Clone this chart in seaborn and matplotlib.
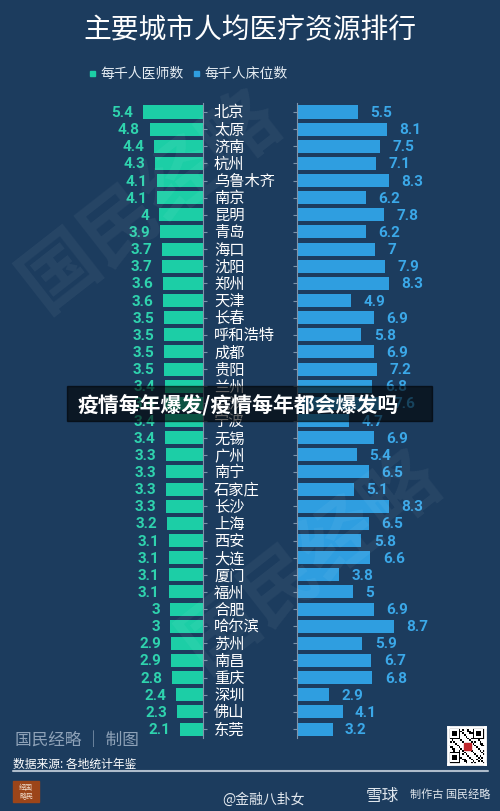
import numpy as np
import pandas as pd
import matplotlib
matplotlib.use("Agg")
import matplotlib.pyplot as plt
from matplotlib.transforms import blended_transform_factory
from matplotlib.patches import Rectangle
import seaborn as sns

# ---------------- data ----------------
cities = ["北京", "太原", "济南", "杭州", "乌鲁木齐", "南京", "昆明", "青岛", "海口",
          "沈阳", "郑州", "天津", "长春", "呼和浩特", "成都", "贵阳", "兰州", "武汉",
          "宁波", "无锡", "广州", "南宁", "石家庄", "长沙", "上海", "西安", "大连",
          "厦门", "福州", "合肥", "哈尔滨", "苏州", "南昌", "重庆", "深圳", "佛山", "东莞"]
doctors = [5.4, 4.8, 4.4, 4.3, 4.1, 4.1, 4, 3.9, 3.7,
           3.7, 3.6, 3.6, 3.5, 3.5, 3.5, 3.5, 3.4, 3.4,
           3.4, 3.4, 3.3, 3.3, 3.3, 3.3, 3.2, 3.1, 3.1,
           3.1, 3.1, 3, 3, 2.9, 2.9, 2.8, 2.4, 2.3, 2.1]
beds = [5.5, 8.1, 7.5, 7.1, 8.3, 6.2, 7.8, 6.2, 7,
        7.9, 8.3, 4.9, 6.9, 5.8, 6.9, 7.2, 6.8, 7.6,
        4.7, 6.9, 5.4, 6.5, 5.1, 8.3, 6.5, 5.8, 6.6,
        3.8, 5, 6.9, 8.7, 5.9, 6.7, 6.8, 2.9, 4.1, 3.2]
title = "主要城市人均医疗资源排行"
legend_labels = ["每千人医师数", "每千人床位数"]
banner_text = "疫情每年爆发/疫情每年都会爆发吗"

df = pd.DataFrame({"city": cities, "doctors": doctors, "beds": beds})

# ---------------- style ----------------
BG = "#1c3c5e"
TEAL = "#1ccea6"
TEAL_TXT = "#2fd3ae"
BLUE = "#2f9ee0"
BLUE_TXT = "#3ba8e8"
SPINE = "#7f94aa"

sns.set_style("white")
plt.rcParams["font.family"] = ["Noto Sans CJK SC", "DejaVu Sans"]

W, H = 500, 812
fig = plt.figure(figsize=(W / 100, H / 100), dpi=100, facecolor=BG)


def rect(x0, y0, w, h):
    return [x0 / W, 1 - (y0 + h) / H, w / W, h / H]


n = len(cities)
row = 17.14
top = 113 - row / 2
ax_h = n * row
scale = 11.1  # px per unit

# ---------------- faint watermarks ----------------
fig.text(150 / W, 1 - 200 / H, "国民经略", ha="center", va="center", rotation=38,
         fontsize=55, color="white", alpha=0.05, fontweight="bold")
fig.text(310 / W, 1 - 560 / H, "国民经略", ha="center", va="center", rotation=38,
         fontsize=55, color="white", alpha=0.05, fontweight="bold")

axL = fig.add_axes(rect(15, top, 203 - 15, ax_h))
axR = fig.add_axes(rect(297, top, 490 - 297, ax_h))

sns.barplot(data=df, x="doctors", y="city", ax=axL, color=TEAL, width=0.76,
            orient="h", saturation=1, edgecolor="none")
sns.barplot(data=df, x="beds", y="city", ax=axR, color=BLUE, width=0.76,
            orient="h", saturation=1, edgecolor="none")

axL.set_xlim((203 - 15) / scale, 0)
axR.set_xlim(0, (490 - 297) / scale)
for ax in (axL, axR):
    ax.set_ylim(n - 0.5, -0.5)
    ax.set_facecolor("none")
    ax.set_xlabel("")
    ax.set_ylabel("")
    ax.set_xticks([])
    for s in ax.spines.values():
        s.set_visible(False)
    ax.tick_params(axis="y", length=3, width=0.8, color=SPINE, labelleft=False,
                   labelright=False)

axL.spines["right"].set_visible(True)
axL.spines["right"].set_color(SPINE)
axL.spines["right"].set_linewidth(0.8)
axL.yaxis.set_ticks_position("right")
axL.tick_params(axis="y", labelright=False, labelleft=False)
axR.spines["left"].set_visible(True)
axR.spines["left"].set_color(SPINE)
axR.spines["left"].set_linewidth(0.8)
axR.yaxis.set_ticks_position("left")
axR.tick_params(axis="y", labelright=False, labelleft=False)

num_font = dict(family=["Roboto", "DejaVu Sans"], fontweight="bold", fontsize=11)
for i, (d, b) in enumerate(zip(doctors, beds)):
    axL.annotate(f"{d:g}", xy=(d, i), xytext=(-7, 0), textcoords="offset points",
                 ha="right", va="center", color=TEAL_TXT, **num_font)
    axR.annotate(f"{b:g}", xy=(b, i), xytext=(9, 0), textcoords="offset points",
                 ha="left", va="center", color=BLUE_TXT, **num_font)

tr = blended_transform_factory(fig.transFigure, axR.transData)
for i, c in enumerate(cities):
    axR.text(214 / W, i, c, transform=tr, ha="left", va="center", color="white",
             fontsize=11, clip_on=False)

# ---------------- title & legend ----------------
fig.text(0.5, 1 - 30 / H, title, ha="center", va="center", color="white", fontsize=20)
fig.patches.append(Rectangle((90 / W, 1 - 77 / H), 5 / W, 5 / H, transform=fig.transFigure,
                             color=TEAL, figure=fig))
fig.text(100 / W, 1 - 74 / H, legend_labels[0], ha="left", va="center", color="#e6edf3",
         fontsize=10)
fig.patches.append(Rectangle((194 / W, 1 - 77 / H), 5 / W, 5 / H, transform=fig.transFigure,
                             color=BLUE, figure=fig))
fig.text(204 / W, 1 - 74 / H, legend_labels[1], ha="left", va="center", color="#e6edf3",
         fontsize=10)

# ---------------- banner ----------------
fig.patches.append(Rectangle((67 / W, 1 - 422 / H), (432 - 67) / W, 35 / H,
                             transform=fig.transFigure, color="black", alpha=0.6,
                             figure=fig, zorder=5))
fig.text(78 / W, 1 - 405 / H, banner_text, ha="left", va="center", color="white",
         fontsize=15, fontweight="bold", zorder=6)

# ---------------- footer ----------------
fig.text(15 / W, 1 - 741 / H, "国民经略 │ 制图", ha="left", va="center", color="#8ea2b8",
         fontsize=12)
fig.text(13 / W, 1 - 764 / H, "数据来源: 各地统计年鉴", ha="left", va="center",
         color="white", fontsize=8.5)
fig.lines.append(plt.Line2D([13 / W, 488 / W], [1 - 772 / H, 1 - 772 / H],
                            transform=fig.transFigure, color="#aebccb", lw=1.5))
fig.patches.append(Rectangle((13 / W, 1 - 803 / H), 26 / W, 21 / H,
                             transform=fig.transFigure, color="#9c4519", figure=fig))
fig.text(26 / W, 1 - 792.5 / H, "经国\n略民", ha="center", va="center", color="#f0dccb",
         fontsize=5, linespacing=1.1)
fig.text(222 / W, 1 - 800 / H, "@金融八卦女", ha="left", va="center", color="#e3e9ef",
         fontsize=10)
fig.text(366 / W, 1 - 796 / H, "雪球", ha="left", va="center", color="#dfe6ed",
         fontsize=12)
fig.text(410 / W, 1 - 794 / H, "制作古 国民经略", ha="left", va="center", color="#dfe6ed",
         fontsize=8)

# QR code placeholder (decorative)
qr_ax = fig.add_axes(rect(448, 728, 37, 37))
ii, jj = np.indices((21, 21))
pattern = (((ii * 7 + jj * 3) % 5 == 0) | ((ii * jj) % 7 == 1)).astype(float)
for (r0, c0) in [(0, 0), (0, 14), (14, 0)]:
    pattern[r0:r0 + 7, c0:c0 + 7] = 1
    pattern[r0 + 1:r0 + 6, c0 + 1:c0 + 6] = 0
    pattern[r0 + 2:r0 + 5, c0 + 2:c0 + 5] = 1
qr_ax.imshow(1 - pattern, cmap="gray", vmin=0, vmax=1, interpolation="nearest")
qr_ax.add_patch(Rectangle((8.5, 8.5), 4, 4, color="#c0272d"))
qr_ax.set_xticks([])
qr_ax.set_yticks([])
for s in qr_ax.spines.values():
    s.set_color("white")
    s.set_linewidth(2)

fig.savefig("out.png", dpi=100, facecolor=BG)
